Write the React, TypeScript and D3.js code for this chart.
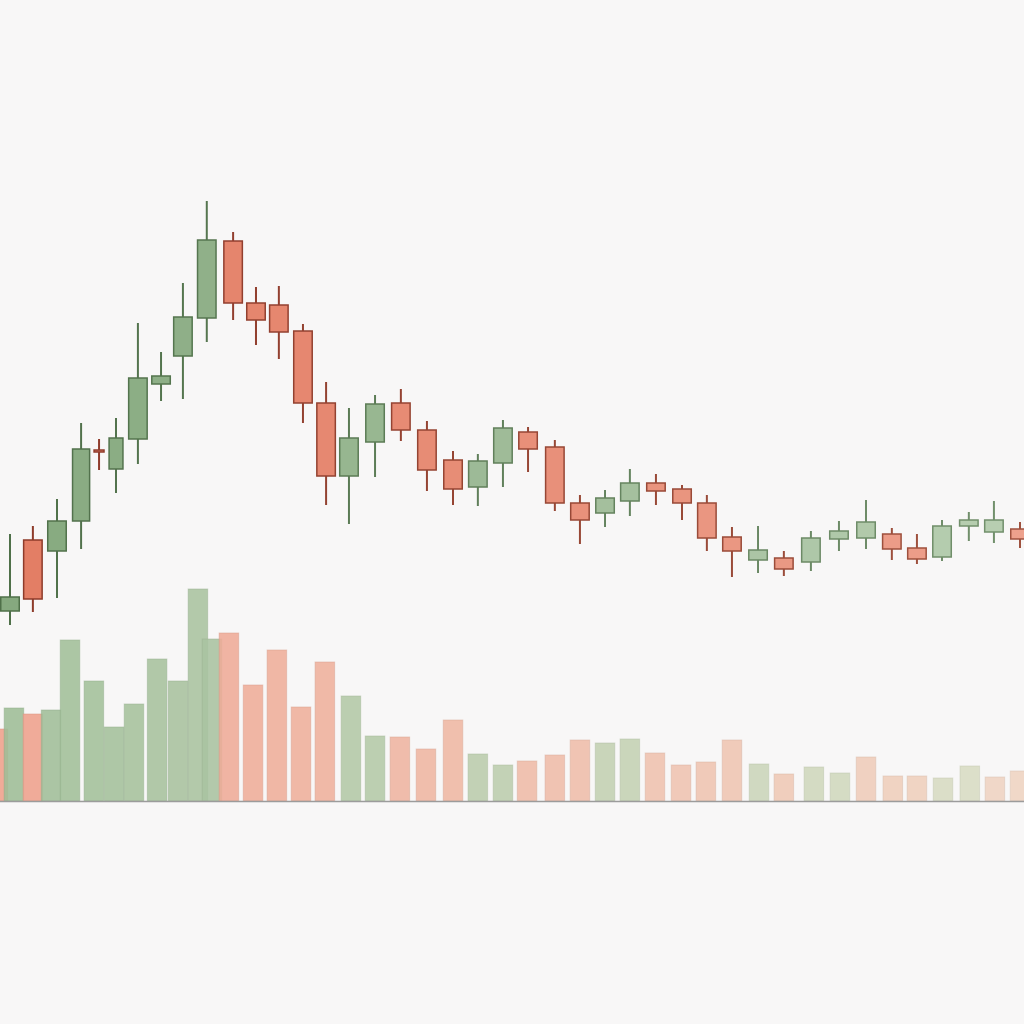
import * as d3 from 'd3';

// session positions (fractional where the spacing in the chart is uneven)
const sessions = [
  0, 0.93, 1.91, 2.89, 3.62, 4.31, 5.2, 6.14, 7.03, 8.0, 9.07, 10.0, 10.93, 11.91,
  12.85, 13.78, 14.84, 15.89, 16.95, 18.01, 19.02, 20.04, 21.06, 22.15, 23.17, 24.19,
  25.2, 26.26, 27.32, 28.33, 29.35, 30.41, 31.46, 32.56, 33.7, 34.8, 35.85, 36.87,
  37.89, 38.98, 40.0, 41.06,
];
const open = [
  43.4, 50.5, 49.4, 52.4, 59.5, 57.6, 60.6, 66.1, 68.9, 72.7, 80.4, 74.2, 74.0, 71.4,
  64.2, 56.9, 60.3, 64.2, 61.5, 58.5, 55.8, 58.2, 61.3, 59.8, 54.2, 53.2, 54.4, 56.2,
  55.6, 54.2, 50.8, 48.5, 48.7, 48.3, 50.6, 50.7, 51.1, 49.7, 48.8, 51.9, 51.3, 51.6,
];
const high = [
  51.1, 51.9, 54.6, 62.2, 60.6, 62.7, 72.2, 69.3, 76.2, 84.4, 81.3, 75.8, 75.9, 72.1,
  66.3, 63.7, 65.0, 65.6, 62.4, 59.4, 59.1, 62.5, 61.8, 60.5, 55.0, 55.5, 57.6, 57.1,
  56.0, 55.0, 51.8, 51.9, 49.4, 51.4, 52.4, 54.5, 51.7, 51.1, 52.5, 53.3, 54.4, 52.3,
];
const low = [
  42.0, 43.3, 44.7, 49.6, 57.5, 55.2, 58.1, 64.4, 64.6, 70.3, 72.5, 70.0, 68.6, 62.2,
  54.0, 52.1, 56.8, 60.4, 55.4, 54.0, 53.9, 55.8, 57.3, 53.4, 50.1, 51.8, 52.9, 54.0,
  52.5, 49.4, 46.8, 47.2, 46.9, 47.4, 49.4, 49.6, 48.5, 48.1, 48.4, 50.4, 50.2, 49.7,
];
const close = [
  44.8, 44.6, 52.4, 59.6, 59.3, 60.7, 66.7, 66.9, 72.8, 80.5, 74.2, 72.5, 71.3, 64.2,
  56.9, 60.7, 64.1, 61.5, 57.5, 55.6, 58.4, 61.7, 59.6, 54.2, 52.5, 54.7, 56.2, 55.4,
  54.2, 50.7, 49.4, 49.5, 47.6, 50.7, 51.4, 52.3, 49.6, 48.6, 51.9, 52.5, 52.5, 50.6,
];

const volSessions = [
  -0.49, 0.16, 0.93, 1.67, 2.44, 3.41, 4.23, 5.04, 5.98, 6.83, 7.64, 8.21, 8.9, 9.88,
  10.85, 11.83, 12.8, 13.86, 14.84, 15.85, 16.91, 18.01, 19.02, 20.04, 21.02, 22.15,
  23.17, 24.19, 25.2, 26.22, 27.28, 28.29, 29.35, 30.45, 31.46, 32.68, 33.74, 34.8,
  35.89, 36.87, 37.93, 39.02, 40.04, 41.06,
];
const volume = [
  72, 93, 87, 91, 161, 120, 74, 97, 142, 120, 212, 162, 168, 116, 151, 94, 139, 105,
  65, 64, 52, 81, 47, 36, 40, 46, 61, 58, 62, 48, 36, 39, 61, 37, 27, 34, 28, 44, 25,
  25, 23, 35, 24, 30,
];
const volSide = [
  'down', 'up', 'down', 'up', 'up', 'up', 'up', 'up', 'up', 'up', 'up', 'up', 'down',
  'down', 'down', 'down', 'down', 'up', 'up', 'down', 'down', 'down', 'up', 'up', 'down',
  'down', 'down', 'up', 'up', 'down', 'down', 'down', 'down', 'up', 'down', 'up', 'up',
  'down', 'down', 'down', 'up', 'up', 'down', 'down',
];

const W = 1024;
const H = 1024;
const BG = '#f8f7f7';

export default function App() {
  const x = d3.scaleLinear().domain([0, 41.06]).range([10, 1020]);
  const y = d3.scaleLinear().domain([20, 90]).range([845, 145]);
  const yVol = d3.scaleLinear().domain([0, 250]).range([801, 551]);
  const fade = d3.scaleLinear().domain([0, 41]).range([0, 1]).clamp(true);

  const upFill = d3.interpolateRgb('#86a97f', '#c9dbc3');
  const upStroke = d3.interpolateRgb('#4f7049', '#7f9c79');
  const downFill = d3.interpolateRgb('#e37d64', '#f0ad9b');
  const downStroke = d3.interpolateRgb('#8e3a2a', '#a55a46');
  const volUp = d3.interpolateRgb('#9dbd96', '#e1e1cb');
  const volDown = d3.interpolateRgb('#eea08b', '#eedac8');

  // body width shrinks only where neighbours crowd in (the small doji)
  const candles = sessions.map((t, i) => {
    const prev = i > 0 ? x(sessions[i - 1]) : x(t) - 25;
    const next = i < sessions.length - 1 ? x(sessions[i + 1]) : x(t) + 25;
    const w = Math.max(8, Math.min(18.5, next - prev - 25));
    return { t, o: open[i], h: high[i], l: low[i], c: close[i], w };
  });

  const volBars = volSessions.map((t, i) => ({ t, v: volume[i], side: volSide[i] }));
  const barW = 19.5;

  return (
    <div style={{ position: 'fixed', left: 0, top: 0, width: W, height: H, background: BG }}>
      <svg width={W} height={H} viewBox={`0 0 ${W} ${H}`} style={{ display: 'block' }}>
        <rect width={W} height={H} fill={BG} />
        <g>
          {volBars.map((b, i) => {
            const k = fade(b.t) * 0.9;
            const fill = b.side === 'up' ? volUp(k) : volDown(k);
            return (
              <rect
                key={i}
                x={x(b.t) - barW / 2}
                y={yVol(b.v)}
                width={barW}
                height={yVol(0) - yVol(b.v)}
                fill={fill}
                fillOpacity={0.88}
                stroke={d3.color(fill)?.darker(0.25).formatHex()}
                strokeOpacity={0.5}
                strokeWidth={1}
              />
            );
          })}
        </g>
        <line x1={0} x2={W} y1={yVol(0) + 0.5} y2={yVol(0) + 0.5} stroke="#9c9c9c" strokeWidth={1.6} />
        <g>
          {candles.map((d, i) => {
            const up = d.c >= d.o;
            const k = fade(d.t) * 0.75;
            const fill = up ? upFill(k) : downFill(k);
            const stroke = up ? upStroke(k) : downStroke(k);
            const cx = x(d.t);
            const top = y(Math.max(d.o, d.c));
            const bot = y(Math.min(d.o, d.c));
            return (
              <g key={i}>
                <line x1={cx} x2={cx} y1={y(d.h)} y2={y(d.l)} stroke={stroke} strokeWidth={2} />
                <rect
                  x={cx - d.w / 2}
                  y={top}
                  width={d.w}
                  height={Math.max(2, bot - top)}
                  fill={fill}
                  stroke={stroke}
                  strokeWidth={1.5}
                />
              </g>
            );
          })}
        </g>
      </svg>
    </div>
  );
}
